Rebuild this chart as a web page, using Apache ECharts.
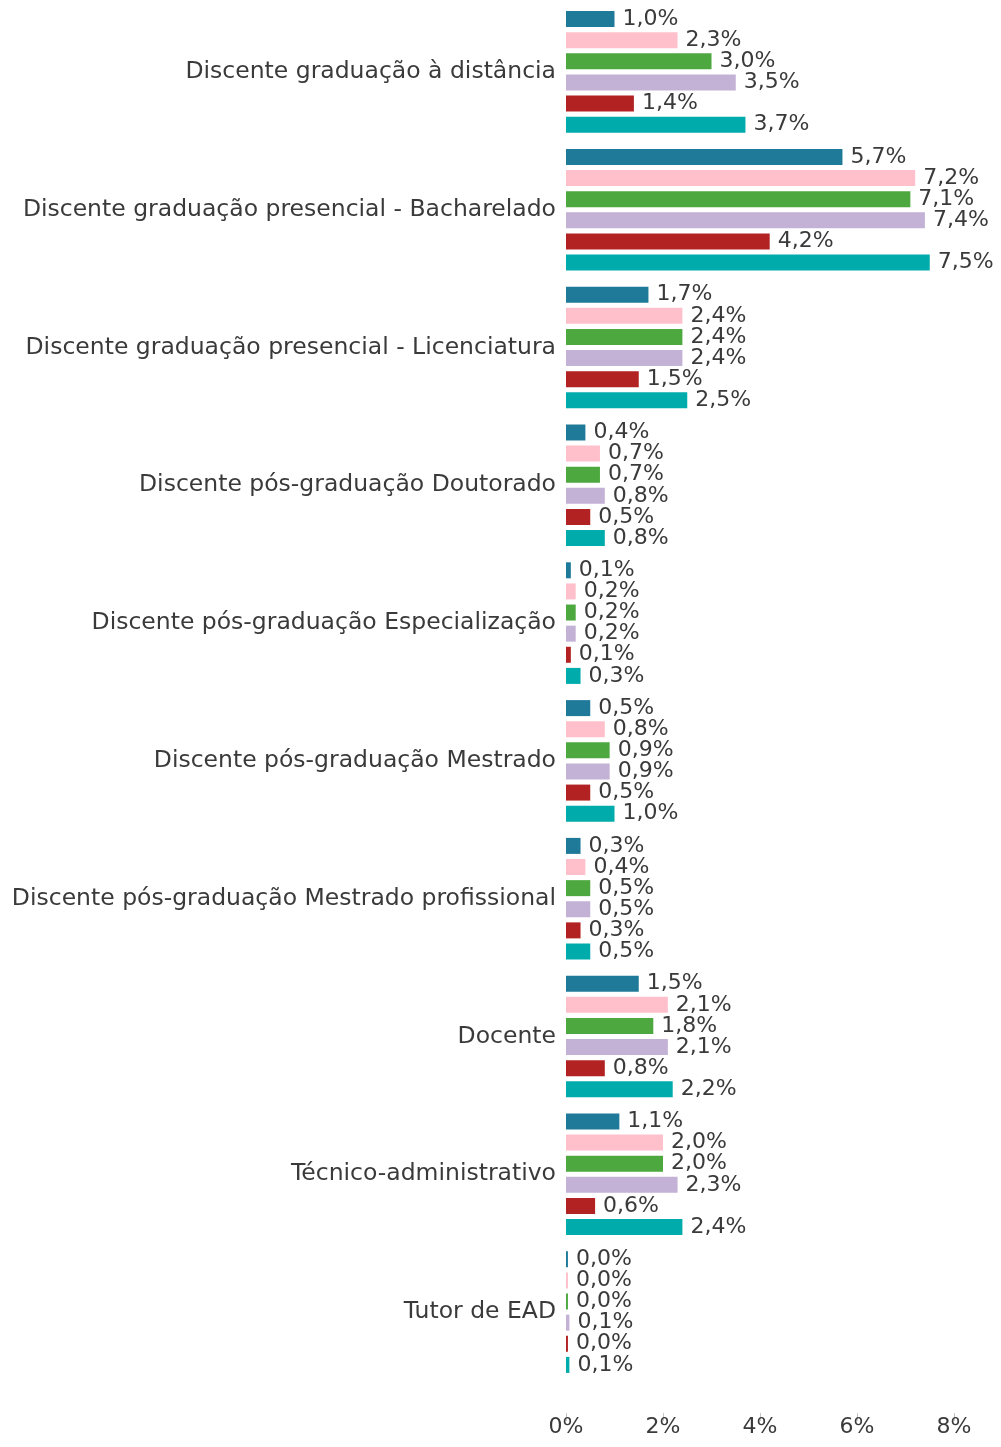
<!DOCTYPE html>
<html>
<head>
<meta charset="utf-8">
<script src="https://cdn.jsdelivr.net/npm/echarts@6/dist/echarts.min.js"></script>
<style>
  html, body { margin: 0; padding: 0; background: #fff; }
  #chart { width: 1001px; height: 1447px; }
</style>
</head>
<body>
<div id="chart"></div>
<script>
// categorias (de cima para baixo)
const categories = [
    'Discente graduação à distância',
    'Discente graduação presencial - Bacharelado',
    'Discente graduação presencial - Licenciatura',
    'Discente pós-graduação Doutorado',
    'Discente pós-graduação Especialização',
    'Discente pós-graduação Mestrado',
    'Discente pós-graduação Mestrado profissional',
    'Docente',
    'Técnico-administrativo',
    'Tutor de EAD'
];

// valores em %
const serie1 = [1.0, 5.7, 1.7, 0.4, 0.1, 0.5, 0.3, 1.5, 1.1, 0.04];
const serie2 = [2.3, 7.2, 2.4, 0.7, 0.2, 0.8, 0.4, 2.1, 2.0, 0.04];
const serie3 = [3.0, 7.1, 2.4, 0.7, 0.2, 0.9, 0.5, 1.8, 2.0, 0.04];
const serie4 = [3.5, 7.4, 2.4, 0.8, 0.2, 0.9, 0.5, 2.1, 2.3, 0.07];
const serie5 = [1.4, 4.2, 1.5, 0.5, 0.1, 0.5, 0.3, 0.8, 0.6, 0.04];
const serie6 = [3.7, 7.5, 2.5, 0.8, 0.3, 1.0, 0.5, 2.2, 2.4, 0.07];

const seriesData = [serie1, serie2, serie3, serie4, serie5, serie6];
const colors = ['#1f7a99', '#ffc0cb', '#4ca83f', '#c3b1d6', '#b22222', '#00abab'];

const FONT = '"DejaVu Sans", sans-serif';

const chart = echarts.init(document.getElementById('chart'));

chart.setOption({
    backgroundColor: '#ffffff',
    animation: false,
    grid: { left: 566, right: 47, top: 3, bottom: 66 },
    xAxis: {
        type: 'value',
        min: 0,
        max: 8,
        interval: 2,
        offset: 32,
        axisLine: { show: false },
        axisTick: { show: true, length: 8, lineStyle: { color: '#c8c8c8' } },
        splitLine: { show: false },
        axisLabel: {
            color: '#3a3a3a',
            fontSize: 22,
            fontFamily: FONT,
            margin: 3,
            formatter: v => v + '%'
        }
    },
    yAxis: {
        type: 'category',
        data: categories,
        inverse: true,
        axisLine: { show: false },
        axisTick: { show: false },
        axisLabel: {
            color: '#3a3a3a',
            fontSize: 23.5,
            fontFamily: FONT,
            margin: 10
        }
    },
    series: seriesData.map((d, i) => ({
        name: 'Série ' + (i + 1),
        type: 'bar',
        data: d,
        barWidth: 16,
        barGap: '32%',
        itemStyle: { color: colors[i] },
        label: {
            show: true,
            position: 'right',
            distance: 8,
            color: '#3a3a3a',
            fontSize: 22,
            fontFamily: FONT,
            formatter: p => p.value.toFixed(1).replace('.', ',') + '%'
        }
    }))
});

window.onresize = () => chart.resize();
</script>
</body>
</html>
